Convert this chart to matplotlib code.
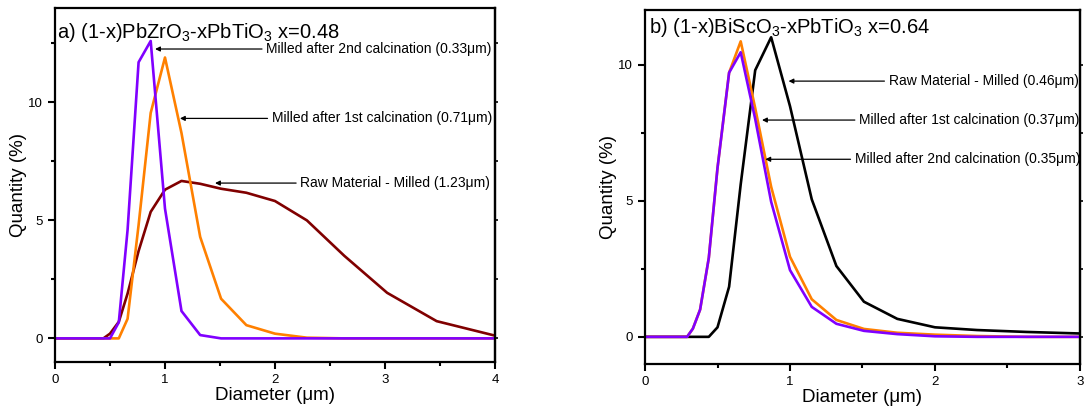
import matplotlib.pyplot as plt
from matplotlib.ticker import MultipleLocator

plt.rcParams['font.family'] = ['Liberation Sans', 'DejaVu Sans']
plt.rcParams['mathtext.default'] = 'regular'

# panel a: (1-x)PbZrO3-xPbTiO3
diam_a = [0.0, 0.44, 0.50, 0.58, 0.66, 0.76, 0.87, 1.00, 1.15, 1.32, 1.51,
          1.74, 2.00, 2.29, 2.63, 3.02, 3.47, 3.98, 4.0]
raw_a = [0, 0, 0.2, 0.7, 1.9, 3.7, 5.36, 6.3, 6.67, 6.55, 6.34,
         6.17, 5.82, 5.0, 3.5, 1.93, 0.73, 0.14, 0.12]
calc1_a = [0, 0, 0, 0, 0.83, 4.8, 9.55, 11.9, 8.7, 4.3, 1.68,
           0.56, 0.2, 0.03, 0, 0, 0, 0, 0]
calc2_a = [0, 0, 0, 0.68, 4.6, 11.7, 12.6, 5.5, 1.16, 0.14, 0,
           0, 0, 0, 0, 0, 0, 0, 0]

# panel b: (1-x)BiScO3-xPbTiO3
diam_b = [0.0, 0.29, 0.33, 0.38, 0.44, 0.50, 0.58, 0.66, 0.76, 0.87, 1.00,
          1.15, 1.32, 1.51, 1.74, 2.00, 2.29, 2.63, 3.02]
raw_b = [0, 0, 0, 0, 0, 0.35, 1.84, 5.6, 9.79, 11.0, 8.47,
         5.05, 2.6, 1.29, 0.66, 0.35, 0.25, 0.18, 0.12]
calc1_b = [0, 0, 0.3, 1.0, 2.9, 6.2, 9.7, 10.85, 8.4, 5.51, 2.94,
           1.38, 0.62, 0.29, 0.15, 0.08, 0.03, 0, 0]
calc2_b = [0, 0, 0.3, 1.0, 2.9, 6.2, 9.7, 10.45, 8.0, 4.96, 2.45,
           1.1, 0.48, 0.22, 0.1, 0.02, 0, 0, 0]

purple = '#8000ff'
orange = '#ff8000'
darkred = '#800000'

fig = plt.figure(figsize=(10.89, 4.18), dpi=100)
ax1 = fig.add_axes([0.0505, 0.134, 0.404, 0.847])
ax2 = fig.add_axes([0.5923, 0.129, 0.3994, 0.847])


def style(ax, xmax, ymax):
    ax.set_xlim(0, xmax)
    ax.set_ylim(-1, ymax)
    ax.xaxis.set_major_locator(MultipleLocator(1))
    ax.xaxis.set_minor_locator(MultipleLocator(0.5))
    ax.yaxis.set_major_locator(MultipleLocator(5))
    ax.yaxis.set_minor_locator(MultipleLocator(2.5))
    ax.tick_params(which='both', direction='out', width=1.5, labelsize=9.5)
    ax.tick_params(which='major', length=5)
    ax.tick_params(which='minor', length=3)
    for s in ax.spines.values():
        s.set_linewidth(1.6)
    # small mirror ticks on the right spine
    sec = ax.secondary_yaxis('right')
    sec.yaxis.set_major_locator(MultipleLocator(5))
    sec.yaxis.set_minor_locator(MultipleLocator(2.5))
    sec.tick_params(which='both', direction='out', length=2, width=1.2,
                    labelright=False)
    sec.spines['right'].set_linewidth(1.6)
    ax.set_xlabel('Diameter (μm)', fontsize=13.5, labelpad=1)
    ax.set_ylabel('Quantity (%)', fontsize=13.5, labelpad=1)


def note(ax, txt, head, tx, ty):
    ax.annotate(txt, xy=head, xytext=(tx, ty), ha='left', va='center',
                fontsize=10,
                arrowprops=dict(arrowstyle='-|>', color='black', lw=0.9,
                                mutation_scale=7, shrinkA=1, shrinkB=0))


lw = 1.9
ax1.plot(diam_a, raw_a, color=darkred, lw=lw)
ax1.plot(diam_a, calc1_a, color=orange, lw=lw)
ax1.plot(diam_a, calc2_a, color=purple, lw=lw)
style(ax1, 4, 14)
ax1.text(0.02, 12.95, 'a) (1-x)PbZrO$_3$-xPbTiO$_3$ x=0.48', fontsize=14.5, va='center')
note(ax1, 'Milled after 2nd calcination (0.33μm)', (0.91, 12.26), 1.92, 12.26)
note(ax1, 'Milled after 1st calcination (0.71μm)', (1.136, 9.32), 1.97, 9.32)
note(ax1, 'Raw Material - Milled (1.23μm)', (1.455, 6.58), 2.23, 6.58)

ax2.plot(diam_b, raw_b, color='black', lw=lw)
ax2.plot(diam_b, calc1_b, color=orange, lw=lw)
ax2.plot(diam_b, calc2_b, color=purple, lw=lw)
style(ax2, 3, 12)
ax2.text(0.03, 11.35, 'b) (1-x)BiScO$_3$-xPbTiO$_3$ x=0.64', fontsize=14.5, va='center')
note(ax2, 'Raw Material - Milled (0.46μm)', (0.99, 9.39), 1.68, 9.39)
note(ax2, 'Milled after 1st calcination (0.37μm)', (0.807, 7.96), 1.476, 7.96)
note(ax2, 'Milled after 2nd calcination (0.35μm)', (0.83, 6.52), 1.446, 6.52)

plt.savefig('out.png', dpi=100)
